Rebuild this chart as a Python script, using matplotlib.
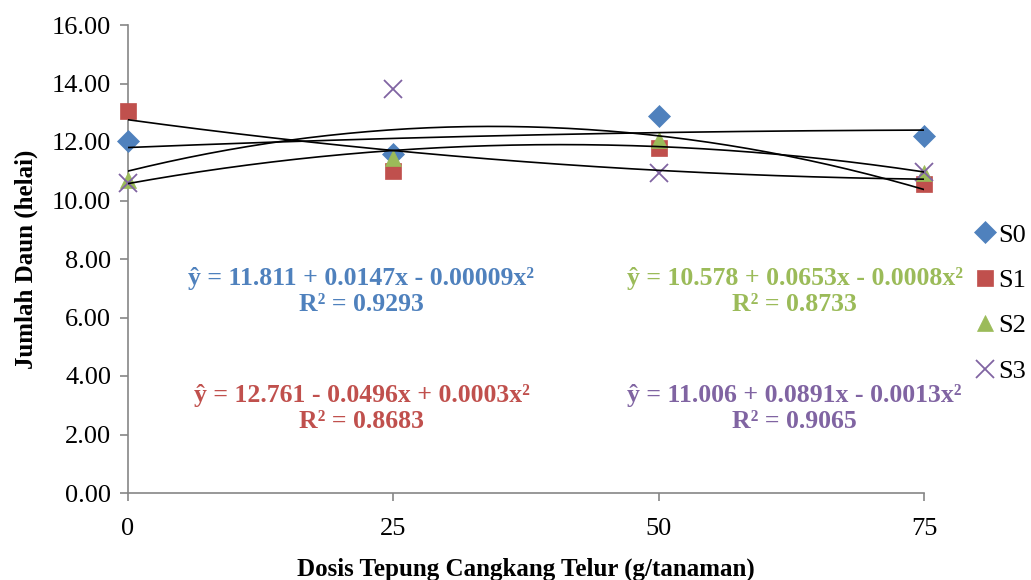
import matplotlib.pyplot as plt
import numpy as np

plt.rcParams['font.family'] = ['Liberation Serif', 'DejaVu Serif']

dosis = [0, 25, 50, 75]
series = ['S0', 'S1', 'S2', 'S3']
s0 = [12.03, 11.6, 12.9, 12.22]
s1 = [13.06, 11.0, 11.8, 10.55]
s2 = [10.7, 11.45, 12.08, 10.95]
s3 = [10.6, 13.82, 10.95, 10.98]

# trendline coefficients (a + b x + c x^2) as printed on the chart
coef_s0 = [11.811, 0.0147, -0.00009]
coef_s1 = [12.761, -0.0496, 0.0003]
coef_s2 = [10.578, 0.0653, -0.0008]
coef_s3 = [11.006, 0.0891, -0.0013]
r2 = ['0.9293', '0.8683', '0.8733', '0.9065']

colors = ['#4F81BD', '#C0504D', '#9BBB59', '#8064A2']
markers = ['D', 's', '^', 'x']
msizes = [11, 12, 11, 13]

fig = plt.figure(figsize=(10.31, 5.8), dpi=100)
ax = fig.add_axes([128/1031, 87/580, 796/1031, 468/580])

values = [s0, s1, s2, s3]
coefs = [coef_s0, coef_s1, coef_s2, coef_s3]
xx = np.linspace(0, 75, 200)
for i in range(4):
    ax.plot(dosis, values[i], linestyle='none', marker=markers[i], color=colors[i],
            markersize=msizes[i], markeredgewidth=1.3 if markers[i] == 'x' else 0.5,
            label=series[i], zorder=3, clip_on=False)
    a, b, c = coefs[i]
    ax.plot(xx, a + b*xx + c*xx**2, color='black', linewidth=1.2, zorder=4)

def eq_text(coef):
    a, b, c = coef
    sb = '+' if b >= 0 else '-'
    sc = '+' if c >= 0 else '-'
    cs = f'{abs(c):.5f}'.rstrip('0')
    return f'ŷ = {a:.3f} {sb} {abs(b):.4f}x {sc} {cs}x²'

pos = [(22.0, 6.9), (22.0, 2.9), (62.8, 6.9), (62.8, 2.9)]
for i in range(4):
    ax.text(pos[i][0], pos[i][1], eq_text(coefs[i]) + '\nR² = ' + r2[i],
            ha='center', va='center', multialignment='center', color=colors[i],
            fontsize=18.5, fontweight='bold', linespacing=1.17)

ax.set_xlim(0, 75)
ax.set_ylim(0, 16)
ax.set_xticks(dosis)
ax.set_yticks(np.arange(0, 16.1, 2))
ax.set_yticklabels([f'{v:.2f}' for v in np.arange(0, 16.1, 2)])
for side in ['top', 'right']:
    ax.spines[side].set_visible(False)
for side in ['left', 'bottom']:
    ax.spines[side].set_color('#868686')
    ax.spines[side].set_linewidth(1.2)
ax.tick_params(axis='both', direction='out', length=6, width=1.2, color='#868686',
               labelsize=19, pad=6)
ax.tick_params(axis='x', pad=12)

ax.set_xlabel('Dosis Tepung Cangkang Telur (g/tanaman)', fontsize=18, fontweight='bold', labelpad=13)
ax.set_ylabel('Jumlah Daun (helai)', fontsize=18, fontweight='bold', labelpad=10)

ax.legend(loc='center left', bbox_to_anchor=(1.065, 0.406), frameon=False, fontsize=19,
          handlelength=0.7, handletextpad=0.15, labelspacing=0.83, borderpad=0,
          borderaxespad=0)

fig.savefig('out.png', dpi=100)
